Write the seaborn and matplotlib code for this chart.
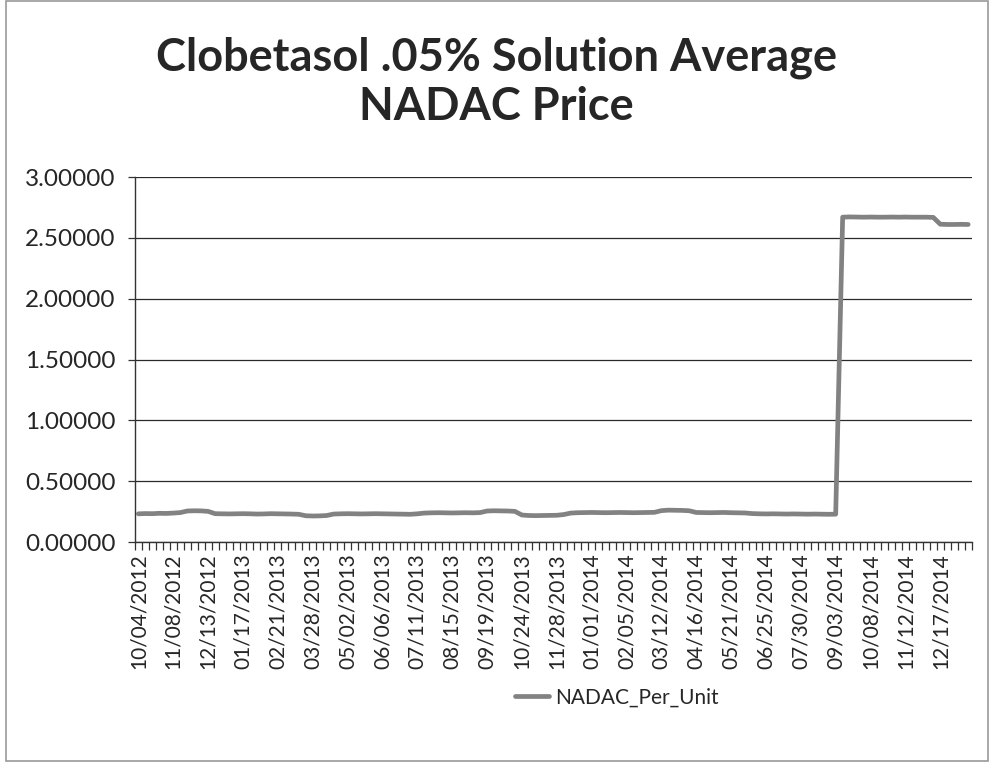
import numpy as np
import pandas as pd
import seaborn as sns
import matplotlib.pyplot as plt
from matplotlib.patches import Rectangle

# Weekly average NADAC per unit (120 weekly observations)
price_2012_2013 = [0.232, 0.234, 0.233, 0.236, 0.235, 0.238, 0.242,
                   0.255, 0.257, 0.256, 0.252,
                   0.233, 0.232, 0.231, 0.232, 0.233, 0.232, 0.230, 0.231, 0.233, 0.232, 0.231, 0.230, 0.228,
                   0.216, 0.214, 0.215, 0.218,
                   0.230, 0.232, 0.233, 0.232, 0.231, 0.232, 0.233, 0.232, 0.231, 0.230, 0.229, 0.228, 0.232,
                   0.238, 0.240, 0.241, 0.240, 0.239, 0.240, 0.241, 0.240, 0.242,
                   0.255, 0.257, 0.256, 0.255, 0.252]
price_2013_2014 = [0.222, 0.218, 0.217, 0.218, 0.219, 0.220, 0.226,
                   0.238, 0.241, 0.242, 0.243, 0.242, 0.241, 0.242, 0.243, 0.242, 0.241, 0.242, 0.243, 0.244,
                   0.258, 0.262, 0.261, 0.260, 0.257,
                   0.243, 0.242, 0.241, 0.242, 0.243, 0.241, 0.240, 0.239,
                   0.234, 0.232, 0.231, 0.232, 0.231, 0.230, 0.231, 0.230, 0.229, 0.230, 0.229, 0.228, 0.229]
price_2014_2015 = [2.670, 2.672, 2.671, 2.670, 2.671, 2.670, 2.670, 2.671, 2.670, 2.671, 2.670, 2.670, 2.670, 2.668,
                   2.612, 2.610, 2.610, 2.611, 2.610]

tick_labels = ['10/04/2012', '11/08/2012', '12/13/2012', '01/17/2013', '02/21/2013',
               '03/28/2013', '05/02/2013', '06/06/2013', '07/11/2013', '08/15/2013',
               '09/19/2013', '10/24/2013', '11/28/2013', '01/01/2014', '02/05/2014',
               '03/12/2014', '04/16/2014', '05/21/2014', '06/25/2014', '07/30/2014',
               '09/03/2014', '10/08/2014', '11/12/2014', '12/17/2014']

values = price_2012_2013 + price_2013_2014 + price_2014_2015
df = pd.DataFrame({'week': np.arange(len(values)), 'NADAC_Per_Unit': values})

sns.set_style('white')
plt.rcParams['font.family'] = ['Lato', 'DejaVu Sans']

fig = plt.figure(figsize=(9.92, 7.63), dpi=100)
ax = fig.add_axes([0.136, 0.2896, 0.8435, 0.4784])

sns.lineplot(data=df, x='week', y='NADAC_Per_Unit', ax=ax, color='#828282',
             linewidth=3.4, label='NADAC_Per_Unit', legend=False)

ax.set_xlim(-0.5, len(values) - 0.5)
ax.set_ylim(0, 3)
ax.set_yticks(np.arange(0, 3.01, 0.5))
ax.set_yticklabels([f'{v:.5f}' for v in np.arange(0, 3.01, 0.5)], fontsize=17.5)
ax.set_xticks(np.arange(0, len(values), 5)[:len(tick_labels)])
ax.set_xticklabels(tick_labels, rotation=90, fontsize=15)
ax.set_xticks(np.arange(-0.5, len(values), 1), minor=True)
ax.tick_params(axis='x', which='major', length=0, pad=8)
ax.tick_params(axis='x', which='minor', length=6, width=0.9, color='#333333', direction='out', bottom=True)
ax.tick_params(axis='y', length=5, width=0.9, color='#333333', direction='out', left=True, pad=9)
ax.yaxis.grid(True, color='#2a2a2a', linewidth=0.9)
ax.xaxis.grid(False)
ax.set_xlabel('')
ax.set_ylabel('')
for side in ['top', 'right']:
    ax.spines[side].set_visible(False)
for side in ['left', 'bottom']:
    ax.spines[side].set_color('#333333')
    ax.spines[side].set_linewidth(1.0)

fig.text(0.5, 0.8925, 'Clobetasol .05% Solution Average\nNADAC Price', ha='center', va='center',
         fontsize=32.5, fontweight='bold', linespacing=1.2)

fig.legend(handles=ax.get_lines()[:1], labels=['NADAC_Per_Unit'], loc='center',
           bbox_to_anchor=(0.622, 0.086), frameon=False, fontsize=15,
           handlelength=1.6, handletextpad=0.3)

# thin chart-area border like the spreadsheet export
fig.patches.append(Rectangle((0.006, 0.003), 0.99, 0.996, transform=fig.transFigure,
                             fill=False, edgecolor='#9a9a9a', linewidth=1.2))

fig.savefig('out.png', dpi=100)
